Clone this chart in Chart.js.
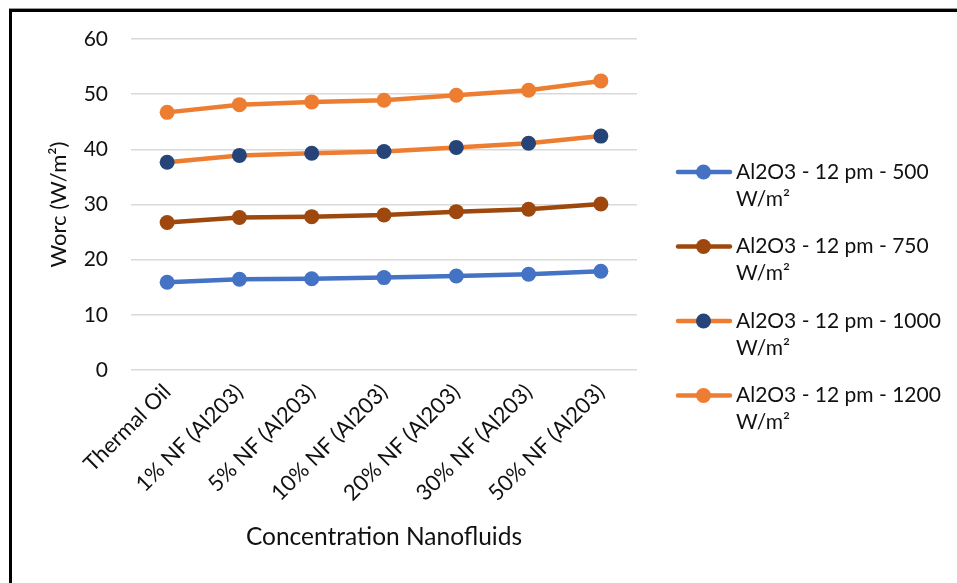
<!DOCTYPE html>
<html>
<head>
<meta charset="utf-8">
<script src="https://cdn.jsdelivr.net/npm/chart.js@4.4.1/dist/chart.umd.min.js"></script>
<style>
  html, body { margin: 0; padding: 0; background: #ffffff; }
  canvas { display: block; }
</style>
</head>
<body>
<canvas id="chart" width="957" height="583"></canvas>
<script>
// Categories along the x axis
const categories = [
  'Thermal Oil',
  '1% NF (Al203)',
  '5% NF (Al203)',
  '10% NF (Al203)',
  '20% NF (Al203)',
  '30% NF (Al203)',
  '50% NF (Al203)'
];

// Y axis tick values
const yTicks = [0, 10, 20, 30, 40, 50, 60];

// Series names (two lines each in the legend)
const seriesNames = [
  ['Al2O3 - 12 pm - 500', 'W/m²'],
  ['Al2O3 - 12 pm - 750', 'W/m²'],
  ['Al2O3 - 12 pm - 1000', 'W/m²'],
  ['Al2O3 - 12 pm - 1200', 'W/m²']
];

// Worc (W/m²) for each irradiance level
const worc500  = [15.9, 16.45, 16.55, 16.75, 17.05, 17.35, 17.9];
const worc750  = [26.75, 27.65, 27.8, 28.1, 28.7, 29.15, 30.1];
const worc1000 = [37.65, 38.9, 39.3, 39.6, 40.35, 41.1, 42.4];
const worc1200 = [46.7, 48.1, 48.6, 48.9, 49.8, 50.7, 52.4];

const FONT = 'Lato, "Open Sans", sans-serif';
const TEXT = '#111111';

function series(name, values, lineColor, markerColor) {
  return {
    label: name,
    data: values,
    borderColor: lineColor,
    backgroundColor: markerColor,
    pointBackgroundColor: markerColor,
    pointBorderColor: markerColor,
    pointBorderWidth: 0,
    pointRadius: 7.5,
    pointHoverRadius: 7.5,
    borderWidth: 4.5,
    tension: 0,
    fill: false
  };
}

// White page with the black frame on top and left
const framePlugin = {
  id: 'frame',
  beforeDraw(chart) {
    const ctx = chart.ctx;
    ctx.save();
    ctx.fillStyle = '#ffffff';
    ctx.fillRect(0, 0, chart.width, chart.height);
    ctx.fillStyle = '#9a9a9a';
    ctx.fillRect(9, 8, chart.width - 9, 1);
    ctx.fillStyle = '#000000';
    ctx.fillRect(9, 9, chart.width - 9, 3);
    ctx.fillRect(9, 9, 3, chart.height - 9);
    ctx.restore();
  }
};

// Legend with a line-and-marker sample and wrapped labels
const legendPlugin = {
  id: 'wrapLegend',
  afterDraw(chart) {
    const ctx = chart.ctx;
    ctx.save();
    chart.data.datasets.forEach((ds, i) => {
      const y = 172 + i * 74.5;
      ctx.strokeStyle = ds.borderColor;
      ctx.lineWidth = 4.5;
      ctx.lineCap = 'round';
      ctx.beginPath();
      ctx.moveTo(678, y);
      ctx.lineTo(730, y);
      ctx.stroke();
      ctx.fillStyle = ds.pointBackgroundColor;
      ctx.beginPath();
      ctx.arc(703.5, y, 7.5, 0, Math.PI * 2);
      ctx.fill();
      ctx.fillStyle = TEXT;
      ctx.font = '21px ' + FONT;
      ctx.textAlign = 'left';
      ctx.textBaseline = 'middle';
      ds.label.forEach((line, k) => ctx.fillText(line, 736, y + k * 27));
    });
    ctx.restore();
  }
};

new Chart(document.getElementById('chart'), {
  type: 'line',
  data: {
    labels: categories,
    datasets: [
      series(seriesNames[0], worc500, '#4472C4', '#4472C4'),
      series(seriesNames[1], worc750, '#9E480E', '#9E480E'),
      series(seriesNames[2], worc1000, '#ED7D31', '#264478'),
      series(seriesNames[3], worc1200, '#ED7D31', '#ED7D31')
    ]
  },
  options: {
    responsive: false,
    animation: false,
    devicePixelRatio: 1,
    layout: { padding: { left: 40, top: 39, right: 320, bottom: 0 } },
    plugins: {
      legend: { display: false },
      tooltip: { enabled: false },
      title: { display: false }
    },
    scales: {
      x: {
        type: 'category',
        offset: true,
        grid: { display: false, drawTicks: false },
        border: { display: false },
        ticks: {
          color: TEXT,
          font: { family: FONT, size: 22 },
          minRotation: 45,
          maxRotation: 45,
          autoSkip: false,
          padding: 9
        },
        title: {
          display: true,
          text: 'Concentration Nanofluids',
          color: TEXT,
          font: { family: FONT, size: 24.5 },
          padding: { top: 0, bottom: 31 }
        },
        afterFit(scale) { scale.height = 213; }
      },
      y: {
        min: 0,
        max: 60,
        grid: { color: '#d9d9d9', lineWidth: 1.5, drawTicks: false },
        border: { display: false },
        ticks: {
          color: TEXT,
          font: { family: FONT, size: 21 },
          padding: 23,
          stepSize: 10
        },
        afterBuildTicks(scale) { scale.ticks = yTicks.map(v => ({ value: v })); },
        title: {
          display: true,
          text: 'Worc (W/m²)',
          color: TEXT,
          font: { family: FONT, size: 22 },
          padding: { top: 6, bottom: 0 }
        },
        afterFit(scale) { scale.width = 91; }
      }
    }
  },
  plugins: [framePlugin, legendPlugin]
});
</script>
</body>
</html>
